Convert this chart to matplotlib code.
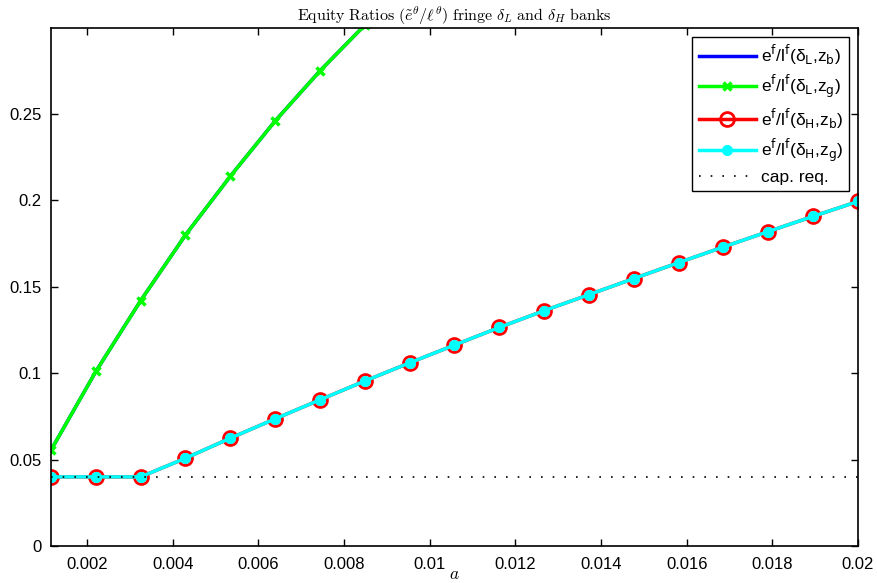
import numpy as np
import matplotlib
matplotlib.use('Agg')
import matplotlib.pyplot as plt
from matplotlib.font_manager import FontProperties

# grid of a values (19 points)
a_vals = np.linspace(0.00116, 0.02, 19)

# delta_L banks (z_b and z_g coincide); the curve leaves the plot after ~0.0085
eq_L_zb = [0.0555, 0.101, 0.142, 0.180, 0.214, 0.246, 0.275, 0.3015, 0.327,
           0.351, 0.374, 0.396, 0.417, 0.437, 0.456, 0.474, 0.491, 0.507, 0.522]
eq_L_zg = list(eq_L_zb)

# delta_H banks
eq_H_zb = [0.040, 0.040, 0.040, 0.0508, 0.0624, 0.0736, 0.0846, 0.0955, 0.1060,
           0.1163, 0.1265, 0.1362, 0.1455, 0.1548, 0.1640, 0.1731, 0.1820, 0.1908, 0.1994]
eq_H_zg = list(eq_H_zb)

cap_req = 0.04

x_ticks = [0.002, 0.004, 0.006, 0.008, 0.01, 0.012, 0.014, 0.016, 0.018, 0.02]
x_labels = ['0.002', '0.004', '0.006', '0.008', '0.01', '0.012', '0.014', '0.016', '0.018', '0.02']
y_ticks = [0, 0.05, 0.1, 0.15, 0.2, 0.25]
y_labels = ['0', '0.05', '0.1', '0.15', '0.2', '0.25']

plt.rcParams['font.family'] = ['Liberation Sans', 'DejaVu Sans']

fig = plt.figure(figsize=(8.78, 5.83), dpi=100)
ax = fig.add_axes([51 / 878, 37 / 583, 807 / 878, 518 / 583])

ax.plot(a_vals, eq_L_zb, color='#0000ff', lw=2.5,
        label=r'e$^\mathsf{f}$/l$^\mathsf{f}$(δ$_\mathsf{L}$,z$_\mathsf{b}$)')
ax.plot(a_vals, eq_L_zg, color='#00ff00', lw=2.5, marker='x', ms=6, mew=2.5,
        label=r'e$^\mathsf{f}$/l$^\mathsf{f}$(δ$_\mathsf{L}$,z$_\mathsf{g}$)')
ax.plot(a_vals, eq_H_zb, color='#ff0000', lw=2.5, marker='o', ms=10, mew=2,
        mfc='none', label=r'e$^\mathsf{f}$/l$^\mathsf{f}$(δ$_\mathsf{H}$,z$_\mathsf{b}$)')
ax.plot(a_vals, eq_H_zg, color='#00ffff', lw=2.5, marker='o', ms=7,
        label=r'e$^\mathsf{f}$/l$^\mathsf{f}$(δ$_\mathsf{H}$,z$_\mathsf{g}$)')
ax.plot([a_vals[0], a_vals[-1]], [cap_req, cap_req], color='black', lw=1.2,
        ls=(0, (1, 6)), label='cap. req.')

ax.set_xlim(a_vals[0], 0.02)
ax.set_ylim(0, 0.2998)
ax.set_xticks(x_ticks)
ax.set_xticklabels(x_labels)
ax.set_yticks(y_ticks)
ax.set_yticklabels(y_labels)
ax.tick_params(direction='in', length=5, width=1, labelsize=12, top=True, right=True)
ax.tick_params(axis='x', pad=8)
ax.tick_params(axis='y', pad=7)
for s in ax.spines.values():
    s.set_linewidth(1.2)

title_fp = FontProperties(size=11.5, math_fontfamily='cm')
ax.set_title(r'$\mathrm{Equity\ Ratios}\ (\tilde{e}^\theta/\ell^\theta)\ \mathrm{fringe}\ \delta_L\ \mathrm{and}\ \delta_H\ \mathrm{banks}$',
             fontproperties=title_fp, pad=5)
ax.set_xlabel(r'$a$', fontproperties=FontProperties(size=12.5, math_fontfamily='cm'), labelpad=-4)

leg = ax.legend(loc='upper right', fontsize=12.5, frameon=True, fancybox=False,
                edgecolor='black', framealpha=1, handlelength=3.3, handletextpad=0.3,
                borderaxespad=0.5, labelspacing=0.35, borderpad=0.35)
leg.get_frame().set_linewidth(1.0)

fig.savefig('out.png', dpi=100)
